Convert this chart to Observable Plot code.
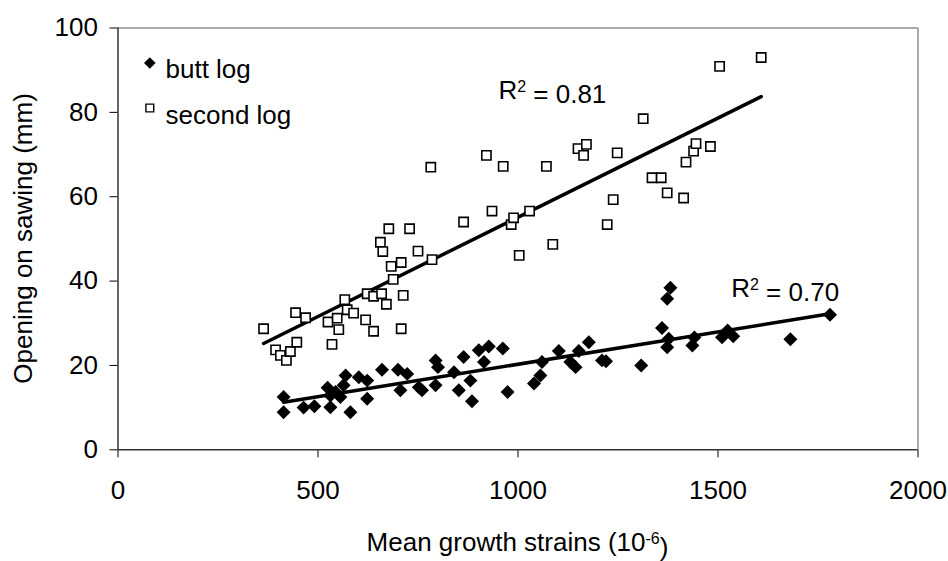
<!DOCTYPE html>
<html><head><meta charset="utf-8">
<script src="https://cdn.jsdelivr.net/npm/d3@7"></script>
<script src="https://cdn.jsdelivr.net/npm/@observablehq/plot@0.6"></script>
<style>
body{margin:0;background:#fff;}
#chart svg{display:block;}
</style></head><body><div id="chart"></div>
<script>
// Butt log: mean growth strain (10^-6) and opening on sawing (mm)
const buttStrain = [414,414,464,491,524,531,531,544,556,564,569,581,602,623,623,660,700,706,723,752,760,794,800,794,840,852,864,881,885,902,915,927,962,974,1040,1056,1060,1102,1131,1144,1152,1177,1210,1220,1308,1360,1373,1381,1377,1373,1436,1441,1510,1524,1538,1681,1780];
const buttOpening = [12.5,8.9,10.0,10.3,14.7,12.9,10.1,13.7,12.5,15.3,17.6,8.9,17.2,16.4,12.1,19.0,19.0,14.1,18.0,14.8,14.1,21.2,19.6,15.3,18.4,14.1,22.0,16.4,11.5,23.6,20.8,24.5,24.0,13.7,15.7,17.6,20.8,23.4,20.8,19.6,23.4,25.5,21.2,21.0,20.0,28.9,35.8,38.4,26.3,24.3,24.7,26.6,26.7,28.3,26.9,26.2,32.0];
// Second log
const secondStrain = [364,394,406,421,431,444,447,469,525,535,548,552,567,573,589,619,623,639,639,656,659,662,671,677,683,688,708,708,713,729,750,782,785,864,921,935,963,983,989,1003,1029,1071,1087,1150,1164,1171,1223,1238,1248,1313,1335,1358,1373,1414,1420,1439,1445,1481,1504,1608];
const secondOpening = [28.7,23.7,22.4,21.2,23.3,32.5,25.5,31.3,30.3,25.0,31.2,28.5,35.6,33.2,32.4,30.8,37.0,36.4,28.1,49.2,37.0,47.0,34.5,52.4,43.5,40.4,44.4,28.7,36.6,52.4,47.1,67.0,45.1,54.0,69.8,56.6,67.2,53.4,55.0,46.1,56.6,67.2,48.7,71.4,69.8,72.4,53.4,59.3,70.4,78.5,64.5,64.5,60.9,59.7,68.2,70.8,72.6,71.9,90.9,93.0];
const seriesNames = ["butt log", "second log"];
const r2Values = ["0.70", "0.81"];
const xTicks = [0, 500, 1000, 1500, 2000];
const yTicks = [0, 20, 40, 60, 80, 100];
const xTitle = ["Mean growth strains (10", "-6", ")"];
const yTitle = "Opening on sawing (mm)";

const butt = buttStrain.map((x, i) => ({x, y: buttOpening[i]}));
const second = secondStrain.map((x, i) => ({x, y: secondOpening[i]}));
// annotation anchors (data coordinates)
const r2Anchors = [{x: 1533, y: 38.2, t: "R2 = " + r2Values[0]}, {x: 951, y: 85.2, t: "R2 = " + r2Values[1]}];

const FONT = "'Liberation Sans', Arial, Helvetica, sans-serif";
const axisColor = "#333";
const frameColor = "#8c8c8c";

const chart = Plot.plot({
  width: 948, height: 561,
  marginLeft: 117.5, marginRight: 30.5, marginTop: 27.5, marginBottom: 111.7,
  style: {fontFamily: FONT, fontSize: "26px", color: "black", background: "white"},
  x: {domain: [0, 2000], ticks: xTicks, tickSize: 8, tickPadding: 23, tickFormat: d => String(d), label: null},
  y: {domain: [0, 100], ticks: yTicks, tickSize: 8, tickPadding: 12, tickFormat: d => String(d), label: null},
  marks: [
    Plot.ruleY([yTicks[yTicks.length - 1]], {stroke: frameColor, strokeWidth: 1.5}),
    Plot.ruleX([xTicks[xTicks.length - 1]], {stroke: frameColor, strokeWidth: 1.5}),
    Plot.ruleY([yTicks[0]], {stroke: axisColor, strokeWidth: 1.5}),
    Plot.ruleX([xTicks[0]], {stroke: axisColor, strokeWidth: 1.5}),
    Plot.linearRegressionY(second, {x: "x", y: "y", stroke: "black", strokeWidth: 3.5, ci: 0}),
    Plot.linearRegressionY(butt, {x: "x", y: "y", stroke: "black", strokeWidth: 3.5, ci: 0}),
    Plot.dot(second, {x: "x", y: "y", symbol: "square", r: 5.2, fill: "white", stroke: "black", strokeWidth: 1.6}),
    Plot.dot(butt, {x: "x", y: "y", symbol: "diamond2", r: 6.3, fill: "black", stroke: "none"}),
    Plot.text(r2Anchors, {x: "x", y: "y", text: "t", textAnchor: "start", fontSize: 26, className: "r2label"}),
    // legend
    Plot.dot([seriesNames[0]], {frameAnchor: "top-left", dx: 31.8, dy: 35, symbol: "diamond2", r: 5.2, fill: "black", stroke: "none"}),
    Plot.text([seriesNames[0]], {frameAnchor: "top-left", dx: 47.5, dy: 31.5, text: d => d, textAnchor: "start", fontSize: 26}),
    Plot.dot([seriesNames[1]], {frameAnchor: "top-left", dx: 31.8, dy: 80, symbol: "square", r: 4.4, fill: "white", stroke: "black", strokeWidth: 1.4}),
    Plot.text([seriesNames[1]], {frameAnchor: "top-left", dx: 47.5, dy: 77.5, text: d => d, textAnchor: "start", fontSize: 26})
  ]
});

const svg = d3.select(chart);
// R² labels: render the "2" as a real superscript
svg.selectAll("text").filter(function() { return /^R2 = /.test(this.textContent); }).each(function() {
  const rest = this.textContent.slice(2);
  const t = d3.select(this);
  t.text("R");
  t.append("tspan").attr("dy", "-0.42em").attr("font-size", 16).text("2");
  t.append("tspan").attr("dy", "0.42em").text(rest);
});
// x axis title with superscript
const xt = svg.append("text")
  .attr("x", 517.5).attr("y", 551)
  .attr("text-anchor", "middle")
  .attr("font-family", FONT).attr("font-size", 26).attr("fill", "black");
xt.append("tspan").text(xTitle[0]);
xt.append("tspan").attr("dy", "-0.45em").attr("font-size", 16).text(xTitle[1]);
xt.append("tspan").attr("dy", "0.45em").text(xTitle[2]);
// y axis title
svg.append("text")
  .attr("transform", "translate(32,238.4) rotate(-90)")
  .attr("text-anchor", "middle")
  .attr("font-family", FONT).attr("font-size", 26).attr("fill", "black")
  .text(yTitle);

document.getElementById("chart").appendChild(chart);
</script>
</body></html>
